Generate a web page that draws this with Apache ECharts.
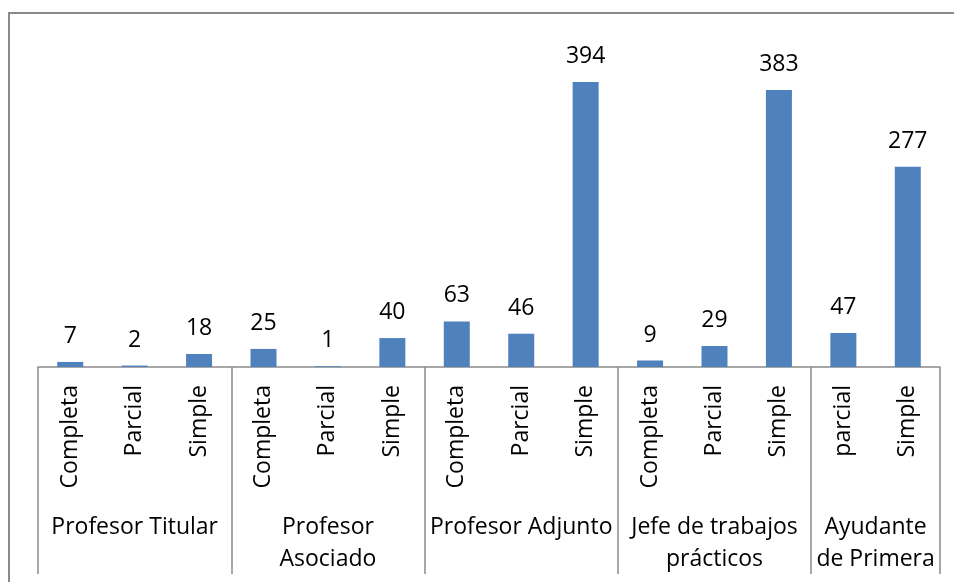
<!DOCTYPE html>
<html>
<head>
<meta charset="utf-8">
<script src="https://cdn.jsdelivr.net/npm/echarts@6/dist/echarts.min.js"></script>
<style>
  html, body { margin: 0; padding: 0; background: #fff; }
  .frame {
    position: absolute;
    left: 8px;
    top: 12px;
    width: 960px;
    height: 600px;
    border-left: 2px solid #8a8a8a;
    border-top: 2px solid #8a8a8a;
  }
  #chart { position: absolute; left: 0; top: 0; width: 954px; height: 582px; }
</style>
</head>
<body>
<div class="frame"></div>
<div id="chart"></div>
<script>
// categorias (nivel 1 = dedicacion, nivel 2 = cargo)
const dedicaciones = ["Completa", "Parcial", "Simple", "Completa", "Parcial", "Simple",
  "Completa", "Parcial", "Simple", "Completa", "Parcial", "Simple", "parcial", "Simple"];
const cargos = ["Profesor Titular", "Profesor\nAsociado", "Profesor Adjunto",
  "Jefe de trabajos\nprácticos", "Ayudante\nde Primera"];
const cargoTamanio = [3, 3, 3, 3, 2];
const valores = [7, 2, 18, 25, 1, 40, 63, 46, 394, 9, 29, 383, 47, 277];

// eje auxiliar a medio paso: separadores en los bordes de cada grupo, nombre en el centro
let bordes = [0];
let centros = {};
let pos = 0;
cargoTamanio.forEach(function (n, i) {
  centros[pos + n] = cargos[i]; // centro del grupo en medios pasos
  pos += n * 2;
  bordes.push(pos);
});
const grupoEje = [];
for (let i = 0; i <= pos; i++) grupoEje.push(centros[i] || "");

const font = "'Open Sans', 'Noto Sans', sans-serif";
let myecharts = echarts.init(document.getElementById("chart"));
myecharts.setOption({
  animation: false,
  grid: { left: 38, right: 14, top: 77.7, bottom: 215 },
  xAxis: [
    {
      type: "category",
      data: dedicaciones,
      axisLine: { lineStyle: { color: "#8a8a8a", width: 1.5 } },
      axisTick: { show: false },
      axisLabel: {
        rotate: 90,
        interval: 0,
        margin: 18,
        color: "#000",
        fontSize: 23,
        fontFamily: font
      }
    },
    {
      type: "category",
      position: "bottom",
      boundaryGap: false,
      data: grupoEje,
      axisLine: { show: false },
      axisTick: {
        show: true,
        length: 207,
        interval: function (i) { return bordes.indexOf(i) >= 0; },
        lineStyle: { color: "#8a8a8a", width: 1.5 }
      },
      axisLabel: {
        interval: 0,
        margin: 144,
        color: "#000",
        fontSize: 23,
        lineHeight: 32,
        fontFamily: font,
        verticalAlign: "top"
      }
    }
  ],
  yAxis: {
    type: "value",
    min: 0,
    max: 400,
    show: false
  },
  series: [
    {
      type: "bar",
      data: valores,
      barWidth: 26,
      itemStyle: { color: "#4f81bd" },
      label: {
        show: true,
        position: "top",
        distance: 14,
        color: "#000",
        fontSize: 23,
        fontFamily: font
      }
    }
  ]
});
</script>
</body>
</html>
